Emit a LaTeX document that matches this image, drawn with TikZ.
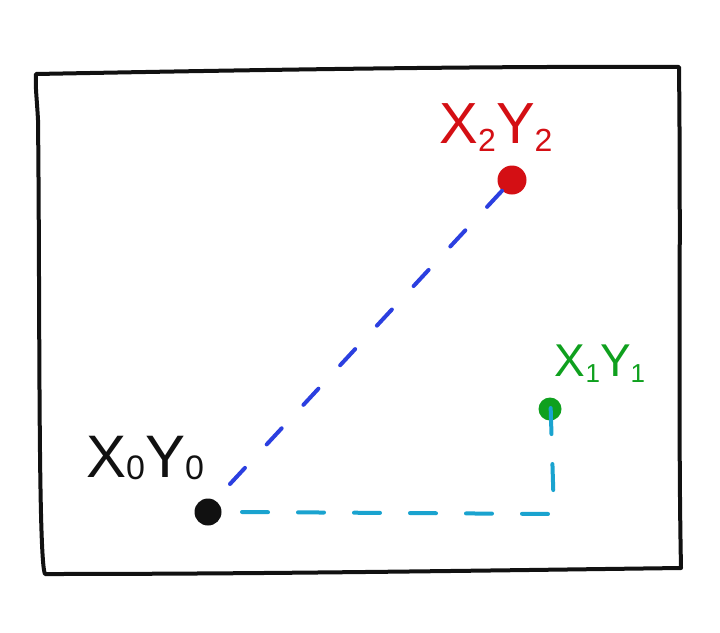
\documentclass[tikz,border=0pt]{standalone}
\usepackage{fontspec}
\setmainfont{Liberation Sans}
\definecolor{pen}{HTML}{111111}
\definecolor{redpen}{HTML}{D40F14}
\definecolor{greenpen}{HTML}{0FA01E}
\definecolor{bluepen}{HTML}{2B3FE0}
\definecolor{cyanpen}{HTML}{1AA3CF}
\begin{document}
\begin{tikzpicture}[x=1pt,y=-1pt,
  frame/.style={draw=pen,line width=4pt,line join=round,line cap=round},
  dot/.style={circle,inner sep=0pt,minimum size=#1},
  lbl/.style={inner sep=0pt,font=\fontsize{#1}{#1}\selectfont},
  dashline/.style={line width=4pt,line cap=round,dash pattern=on 22pt off 32pt}]
\useasboundingbox (0,0) rectangle (720,632);
% frame
\draw[frame] (36,74) .. controls (250,70) and (480,66) .. (679,67)
  .. controls (681,250) and (678,420) .. (681,568)
  .. controls (450,571) and (250,574) .. (45,574)
  .. controls (38,560) and (40,300) .. (38,120)
  .. controls (37,100) and (35,85) .. (36,74) -- cycle;
% dots
\node[dot=27pt,fill=pen] (p0) at (208,512) {};
\node[dot=29pt,fill=redpen] (p2) at (512,180) {};
\node[dot=23pt,fill=greenpen] (p1) at (550,409) {};
% labels
\node[lbl=60pt,text=pen] (l0) at (145,458) {X\raisebox{-2pt}{\fontsize{34}{34}\selectfont 0}Y\raisebox{-2pt}{\fontsize{34}{34}\selectfont 0}};
\node[lbl=58pt,text=redpen] (l2) at (496,128) {X\raisebox{-8pt}{\fontsize{32}{32}\selectfont 2}Y\raisebox{-8pt}{\fontsize{32}{32}\selectfont 2}};
\node[lbl=46pt,text=greenpen] (l1) at (600,364) {X\raisebox{-6pt}{\fontsize{26}{26}\selectfont 1}Y\raisebox{-6pt}{\fontsize{26}{26}\selectfont 1}};
% connectors
\coordinate (c) at (554,514);
\draw[dashline,draw=bluepen] (p0) ++(22,-28) coordinate (b0) (b0) -- ([shift={(-18,26)}]p2);
\draw[dashline,draw=cyanpen,dash pattern=on 26pt off 30pt] ([xshift=34pt]p0.center) coordinate (cs) (cs) -- (c) -- ([yshift=22pt]p1.center);
\end{tikzpicture}
\end{document}
